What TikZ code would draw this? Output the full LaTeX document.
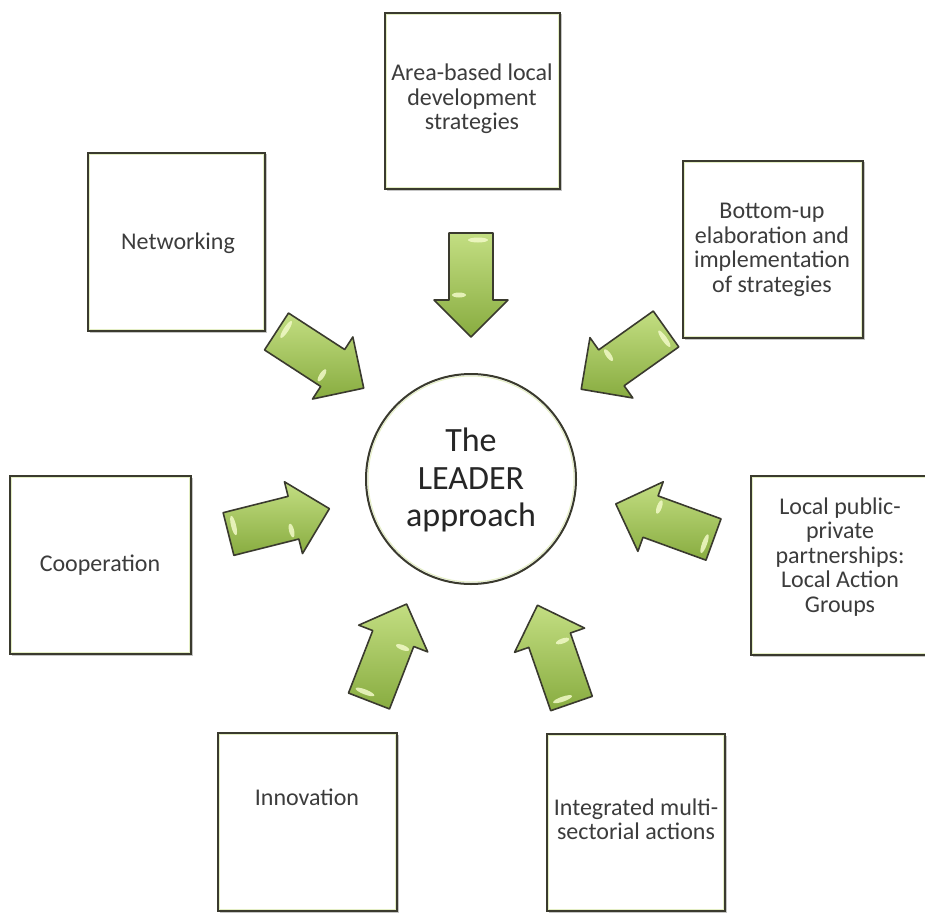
\documentclass[tikz,border=0pt]{standalone}
\usepackage{fontspec}
\setmainfont{Carlito}
\usetikzlibrary{shadows}
\definecolor{edge}{HTML}{3A3A2E}
\definecolor{txt}{HTML}{3C3C3C}
\definecolor{agreenL}{HTML}{C3DE82}
\definecolor{agreenD}{HTML}{88AC40}
\definecolor{glint}{HTML}{F2FAC8}
\definecolor{rim}{HTML}{E4EEC4}
\tikzset{
  box/.style={draw=edge, line width=2pt, fill=white, inner sep=0pt,
    drop shadow={shadow xshift=1.5pt, shadow yshift=-1.5pt, fill=black!45, opacity=.5},
    path picture={\draw[rim, line width=1pt]
      ([shift={(1.8pt,1.8pt)}]path picture bounding box.south west) rectangle
      ([shift={(-1.8pt,-1.8pt)}]path picture bounding box.north east);}},
  boxtext/.style={font=\fontsize{24}{24.5}\selectfont, text=txt, align=center, inner sep=0pt},
  hub/.style={circle, draw=edge, line width=2pt, fill=white, minimum size=210pt, inner sep=0pt,
    path picture={\draw[rim, line width=1pt] (path picture bounding box.center) circle [radius=103pt];}},
  hubtext/.style={font=\fontsize{34}{37.5}\selectfont, text=black!85, align=center, inner sep=0pt},
  blockarr/.pic={
    \path[draw=edge, line width=1.6pt, line join=round, top color=agreenL, bottom color=agreenD]
      (0,-22) -- (67,-22) -- (67,-37) -- (104,0) -- (67,37) -- (67,22) -- (0,22) -- cycle;
    \fill[glint, opacity=.85] (7,-7) ellipse [x radius=2.5, y radius=10];
    \fill[glint, opacity=.85] (62,12) ellipse [x radius=2.5, y radius=7];
  }
}
\begin{document}
\begin{tikzpicture}[x=1pt, y=-1pt]
\useasboundingbox (0,0) rectangle (925,912);
\clip (0,0) rectangle (925,912);
\fill[white] (0,0) rectangle (925,912);

% boxes
\node[box, minimum width=175pt, minimum height=176pt] (area) at (472.5,101) {};
\node[box, minimum width=177pt, minimum height=178pt] (net) at (176.5,242) {};
\node[box, minimum width=180pt, minimum height=177pt] (bottom) at (773,249.5) {};
\node[box, minimum width=181pt, minimum height=178pt] (coop) at (100.5,565) {};
\node[box, minimum width=178pt, minimum height=179pt] (local) at (840,565.5) {};
\node[box, minimum width=179pt, minimum height=178pt] (inno) at (307.5,822) {};
\node[box, minimum width=178pt, minimum height=177pt] (integ) at (636,822.5) {};

% box texts
\node[boxtext] (areat) at (472,99) {Area-based local\\development\\strategies};
\node[boxtext] (nett) at (178,243) {Networking};
\node[boxtext] (bottomt) at (772,250) {Bottom-up\\elaboration and\\implementation\\of strategies};
\node[boxtext] (coopt) at (100,565) {Cooperation};
\node[boxtext] (localt) at (840,557) {Local public-\\private\\partnerships:\\Local Action\\Groups};
\node[boxtext] (innot) at (307,797) {Innovation};
\node[boxtext] (integt) at (636,819) {Integrated multi-\\sectorial actions};

% centre
\node[hub] (leader) at (471,479) {};
\node[hubtext] (leadert) at (471,480) {The\\LEADER\\approach};

% block arrows (tail centre, direction)
\pic[rotate=-90] at (471,233) {blockarr};
\pic[rotate=-33] at (276.5,331.5) {blockarr};
\pic[rotate=-144.6] at (666,329) {blockarr};
\pic[rotate=14.1] at (228.5,534) {blockarr};
\pic[rotate=160] at (713.5,539.5) {blockarr};
\pic[rotate=68.8] at (369,701) {blockarr};
\pic[rotate=109.1] at (571.5,703.5) {blockarr};
\end{tikzpicture}
\end{document}
